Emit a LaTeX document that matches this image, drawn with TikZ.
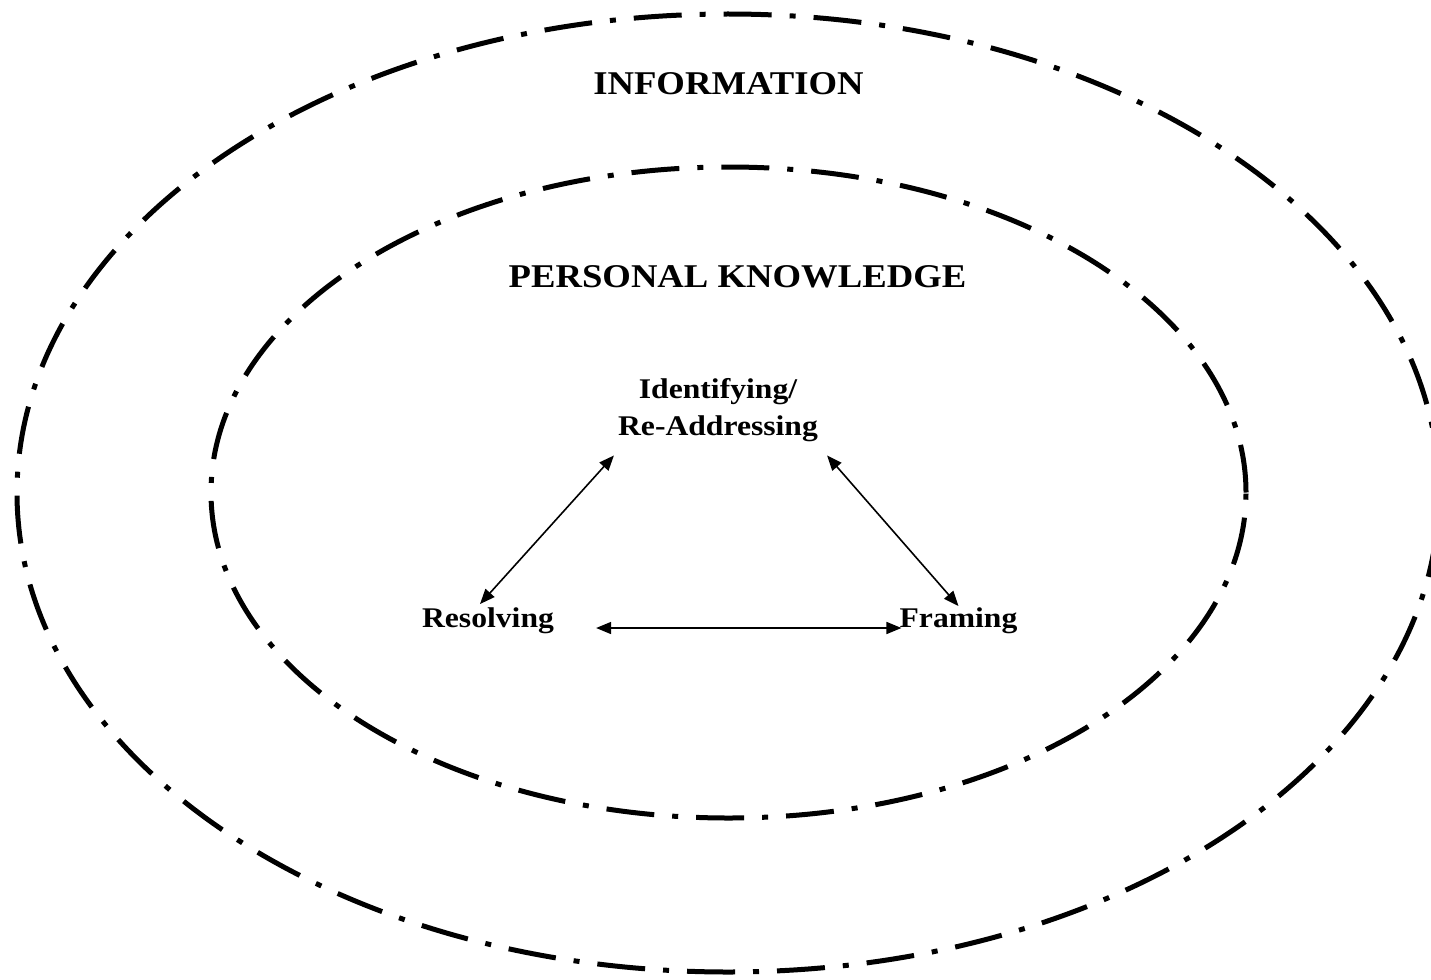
\documentclass[tikz,border=0pt]{standalone}
\usepackage{fontspec}
\setmainfont{Liberation Serif}
\newfontfamily\bigfont[FakeStretch=1.105]{Liberation Serif}
\newfontfamily\smallfont[FakeStretch=1.11]{Liberation Serif}
\usetikzlibrary{arrows.meta,calc}
\begin{document}
\begin{tikzpicture}[x=1pt,y=-1pt,
  ring/.style={line width=5pt, dash pattern=on 48pt off 18pt on 6pt off 18pt},
  biglab/.style={font=\bigfont\bfseries\fontsize{33.2}{40}\selectfont, inner sep=0pt, anchor=base},
  lab/.style={font=\smallfont\bfseries\fontsize{28.5}{37}\selectfont, inner sep=0pt, anchor=base, align=center},
  link/.style={line width=1.6pt, {Triangle[length=15pt,width=12pt]}-{Triangle[length=15pt,width=12pt]}}]
\useasboundingbox (0,0) rectangle (1431,979);
\draw[ring] (728,493) ellipse [x radius=711pt, y radius=479pt];
\draw[ring] (728.5,492.5) ellipse [x radius=517.5pt, y radius=325.5pt];
\node[biglab] (info) at (728.5,95) {INFORMATION};
\node[biglab] (pk) at (737.5,287) {PERSONAL KNOWLEDGE};
\node[lab] (ide) at (718,435) {Identifying/\\Re-Addressing};
\node[lab] (res) at (488,627) {Resolving};
\node[lab] (fra) at (958.5,627) {Framing};
\draw[link] ([xshift=-8pt,yshift=3pt]res.north) -- ([xshift=-4pt,yshift=-14pt]ide.south west);
\draw[link] ([xshift=9pt,yshift=-14pt]ide.south east) -- ([yshift=1pt]fra.north);
\draw[link] ([xshift=42pt,yshift=-1pt]res.base east) -- ([xshift=2pt,yshift=-1pt]fra.base west);
\end{tikzpicture}
\end{document}
